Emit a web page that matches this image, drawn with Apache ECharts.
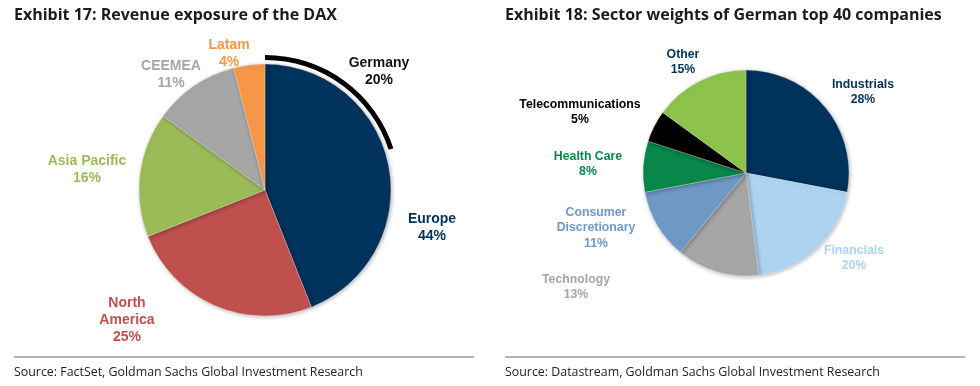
<!DOCTYPE html>
<html><head><meta charset="utf-8">
<script src="https://cdn.jsdelivr.net/npm/echarts@6/dist/echarts.min.js"></script>
<style>html,body{margin:0;padding:0;background:#fff}#c{width:980px;height:386px}</style>
</head><body><div id="c"></div>
<script>
const daxCategories = ['Europe', 'North America', 'Asia Pacific', 'CEEMEA', 'Latam'];
const daxLabels = ['Europe', 'North\nAmerica', 'Asia Pacific', 'CEEMEA', 'Latam'];
const daxValues = [44, 25, 16, 11, 4];
const germanyName = 'Germany';
const germanyValue = 20;

const sectorCategories = ['Industrials', 'Financials', 'Technology', 'Consumer Discretionary', 'Health Care', 'Telecommunications', 'Other'];
const sectorLabels = ['Industrials', 'Financials', 'Technology', 'Consumer\nDiscretionary', 'Health Care', 'Telecommunications', 'Other'];
const sectorValues = [28, 20, 13, 11, 8, 5, 15];

const daxColors = ['#00335C', '#C0504D', '#9BBB59', '#A6A6A6', '#F79646'];
const daxLabelColors = ['#00335C', '#C0504D', '#9BBB59', '#A6A6A6', '#F79646'];
const daxLabelPos = [[432, 228], [127, 320], [87, 170], [171, 75], [229, 54]];
const sectorColors = ['#00335C', '#AED3F0', '#A6A6A6', '#7098C6', '#08874A', '#000000', '#8DC34B'];
const sectorLabelColors = ['#00335C', '#AED3F0', '#A6A6A6', '#7098C6', '#08874A', '#000000', '#00335C'];
const sectorLabelPos = [[863, 92], [854, 258], [576, 287], [596, 228], [588, 164], [580, 112], [683, 62]];

const chart = echarts.init(document.getElementById('c'));
const font = 'Liberation Sans, Arial, sans-serif';
const titleFont = 'Open Sans, sans-serif';

function pieData(names, labels, values, colors, labelColors) {
  return values.map((v, i) => ({
    name: names[i], value: v, disp: labels[i],
    itemStyle: { color: colors[i] },
    label: { color: labelColors[i] }
  }));
}

chart.setOption({
  animation: false,
  title: [
    { text: 'Exhibit 17: Revenue exposure of the DAX', left: 9, top: 2,
      textStyle: { fontFamily: titleFont, fontWeight: 'bold', fontSize: 16, color: '#1a1a28' } },
    { text: 'Exhibit 18: Sector weights of German top 40 companies', left: 500, top: 2,
      textStyle: { fontFamily: titleFont, fontWeight: 'bold', fontSize: 16, color: '#1a1a28' } },
    { text: 'Source: FactSet, Goldman Sachs Global Investment Research', left: 9, top: 361,
      textStyle: { fontFamily: titleFont, fontWeight: 'normal', fontSize: 12.4, color: '#222' } },
    { text: 'Source: Datastream, Goldman Sachs Global Investment Research', left: 500, top: 361,
      textStyle: { fontFamily: titleFont, fontWeight: 'normal', fontSize: 12.4, color: '#222' } }
  ],
  graphic: [
    { type: 'line', shape: { x1: 14, y1: 357, x2: 474, y2: 357 }, style: { stroke: '#9a9a9a', lineWidth: 1.5 } },
    { type: 'line', shape: { x1: 505, y1: 357, x2: 965, y2: 357 }, style: { stroke: '#9a9a9a', lineWidth: 1.5 } }
  ],
  series: [
    {
      type: 'pie', center: [265, 190], radius: [0, 126], startAngle: 90, clockwise: true,
      itemStyle: { borderColor: 'rgba(255,255,255,0.6)', borderWidth: 0.5, shadowBlur: 4, shadowColor: 'rgba(0,0,0,0.3)', shadowOffsetX: 1, shadowOffsetY: 1 },
      label: { show: true, position: 'outside', fontFamily: font, fontWeight: 'bold', fontSize: 14, lineHeight: 17, align: 'center',
        formatter: p => p.data.disp + '\n' + p.value + '%' },
      labelLine: { show: false },
      labelLayout: p => ({ x: daxLabelPos[p.dataIndex][0], y: daxLabelPos[p.dataIndex][1], align: 'center', verticalAlign: 'middle' }),
      emphasis: { disabled: true },
      data: pieData(daxCategories, daxLabels, daxValues, daxColors, daxLabelColors)
    },
    {
      type: 'pie', center: [265, 190], radius: [130, 135], startAngle: 90, clockwise: true, silent: true,
      label: { show: true, position: 'outside', fontFamily: font, fontWeight: 'bold', fontSize: 14, lineHeight: 17, color: '#111',
        formatter: p => p.name + '\n' + p.value + '%' },
      labelLine: { show: false },
      labelLayout: p => p.dataIndex === 0 ? ({ x: 379, y: 72, align: 'center', verticalAlign: 'middle' }) : ({}),
      emphasis: { disabled: true },
      data: [
        { name: germanyName, value: germanyValue, itemStyle: { color: '#000' } },
        { name: '', value: 100 - germanyValue, itemStyle: { color: 'rgba(0,0,0,0)' }, label: { show: false } }
      ]
    },
    {
      type: 'pie', center: [746, 173], radius: [0, 103], startAngle: 90, clockwise: true,
      itemStyle: { borderColor: 'rgba(255,255,255,0.6)', borderWidth: 0.5, shadowBlur: 4, shadowColor: 'rgba(0,0,0,0.3)', shadowOffsetX: 1, shadowOffsetY: 1 },
      label: { show: true, position: 'outside', fontFamily: font, fontWeight: 'bold', fontSize: 12.3, lineHeight: 15.5, align: 'center',
        formatter: p => p.data.disp + '\n' + p.value + '%' },
      labelLine: { show: false },
      labelLayout: p => ({ x: sectorLabelPos[p.dataIndex][0], y: sectorLabelPos[p.dataIndex][1], align: 'center', verticalAlign: 'middle' }),
      emphasis: { disabled: true },
      data: pieData(sectorCategories, sectorLabels, sectorValues, sectorColors, sectorLabelColors)
    }
  ]
});
</script></body></html>
